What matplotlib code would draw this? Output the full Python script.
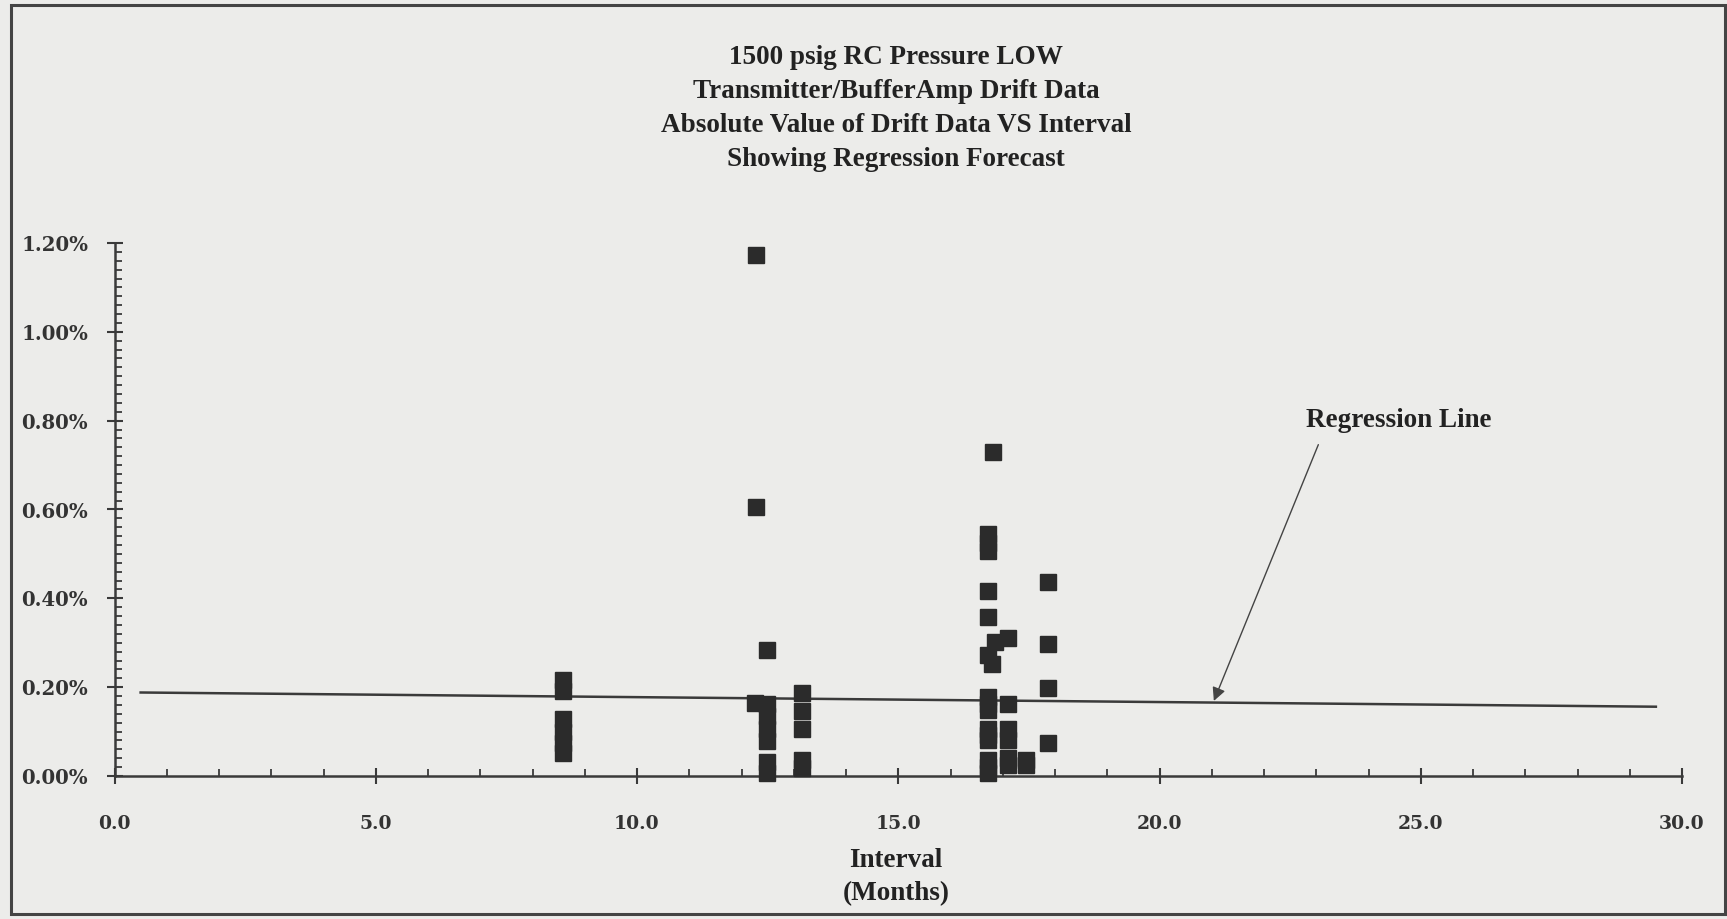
import matplotlib
matplotlib.use("Agg")
import matplotlib.pyplot as plt
from matplotlib.ticker import MultipleLocator, FuncFormatter
from matplotlib.patches import Rectangle

# ---------------- data ----------------
title_lines = [
    "1500 psig RC Pressure LOW",
    "Transmitter/BufferAmp Drift Data",
    "Absolute Value of Drift Data VS Interval",
    "Showing Regression Forecast",
]

interval_months = [
    # ~8.6 months
    8.58, 8.58, 8.58, 8.58, 8.58, 8.58,
    # ~12.3 / 12.5 months
    12.27, 12.27, 12.25, 12.48, 12.48, 12.48, 12.48, 12.48, 12.48, 12.48,
    # ~13.1 months
    13.15, 13.15, 13.15, 13.15, 13.15,
    # ~16.7 - 17.9 months
    16.81, 16.72, 16.72, 16.72, 16.72, 16.72, 17.10, 16.85, 16.72, 16.80,
    17.87, 17.87, 17.87, 17.87,
    16.72, 16.72, 16.72, 16.72, 16.72, 16.72, 16.72, 16.72, 16.72,
    17.10, 17.10, 17.10, 17.10, 17.10,
    17.45, 17.45,
]
drift_pct = [
    0.216, 0.192, 0.128, 0.100, 0.075, 0.051,
    1.173, 0.605, 0.164, 0.283, 0.161, 0.135, 0.105, 0.078, 0.031, 0.006,
    0.186, 0.146, 0.105, 0.035, 0.017,
    0.729, 0.545, 0.525, 0.506, 0.417, 0.357, 0.311, 0.302, 0.272, 0.253,
    0.437, 0.297, 0.199, 0.075,
    0.177, 0.163, 0.149, 0.106, 0.093, 0.081, 0.035, 0.020, 0.006,
    0.163, 0.106, 0.081, 0.040, 0.025,
    0.035, 0.025,
]

regression_x = [0.5, 29.5]
regression_y = [0.188, 0.156]

x_label_lines = ["Interval", "(Months)"]
annotation_text = "Regression Line"

# ---------------- figure ----------------
W, H, DPI = 1727, 919, 100
bg = "#ececea"
ink = "#2b2b2b"

fig = plt.figure(figsize=(W / DPI, H / DPI), dpi=DPI, facecolor=bg)
ax = fig.add_axes([114.5 / W, 143 / H, 1567.5 / W, 533 / H], facecolor=bg)

ax.plot(interval_months, drift_pct, linestyle="none", marker="s",
        markersize=11, color=ink, markeredgecolor=ink, zorder=3, clip_on=False)
ax.plot(regression_x, regression_y, color="#3a3a3a", lw=1.8, zorder=2)

ax.set_xlim(0, 30)
ax.set_ylim(0, 1.2)

for s in ["top", "right"]:
    ax.spines[s].set_visible(False)
for s in ["left", "bottom"]:
    ax.spines[s].set_color("#3a3a3a")
    ax.spines[s].set_linewidth(1.8)

ax.xaxis.set_major_locator(MultipleLocator(5))
ax.xaxis.set_minor_locator(MultipleLocator(1))
ax.yaxis.set_major_locator(MultipleLocator(0.2))
ax.yaxis.set_minor_locator(MultipleLocator(0.02))
ax.xaxis.set_major_formatter(FuncFormatter(lambda v, p: f"{v:.1f}"))
ax.yaxis.set_major_formatter(FuncFormatter(lambda v, p: f"{v:.2f}%"))

ax.tick_params(axis="x", which="major", direction="inout", length=12, width=1.5,
               color="#3a3a3a", pad=22, labelcolor="#333333")
ax.tick_params(axis="x", which="minor", direction="in", length=5, width=1.3,
               color="#3a3a3a")
ax.tick_params(axis="y", which="major", direction="inout", length=12, width=1.5,
               color="#3a3a3a", pad=13, labelcolor="#333333")
ax.tick_params(axis="y", which="minor", direction="in", length=5, width=1.3,
               color="#3a3a3a")
for lab in ax.get_xticklabels():
    lab.set_fontfamily("DejaVu Serif")
    lab.set_fontweight("bold")
    lab.set_fontsize(13.5)
for lab in ax.get_yticklabels():
    lab.set_fontfamily("DejaVu Serif")
    lab.set_fontweight("bold")
    lab.set_fontsize(14.2)

# titles (centred over the plot area, not the page)
serif = "Liberation Serif"
text_cx = 896 / W
title_y = [0.937, 0.900, 0.863, 0.826]
for t, y in zip(title_lines, title_y):
    fig.text(text_cx, y, t, ha="center", va="center", family=serif,
             weight="bold", size=19.5, color="#222222")

# axis label
fig.text(text_cx, 0.0637, x_label_lines[0], ha="center", va="center",
         family=serif, weight="bold", size=19.5, color="#222222")
fig.text(text_cx, 0.0276, x_label_lines[1], ha="center", va="center",
         family=serif, weight="bold", size=19.5, color="#222222")

# annotation
ax.annotate("", xy=(21.04, 0.169), xytext=(23.04, 0.746),
            arrowprops=dict(arrowstyle="-|>", lw=1.0, color="#444444",
                            mutation_scale=20, shrinkA=0, shrinkB=0))
ax.text(24.58, 0.80, annotation_text, ha="center", va="center", family=serif,
        weight="bold", size=19.5, color="#222222")

# outer border of the scanned page
fig.add_artist(Rectangle((11 / W, 5 / H), (W - 13) / W, (H - 10) / H,
                         transform=fig.transFigure, fill=False,
                         edgecolor="#444444", lw=2.2))

fig.savefig("out.png", dpi=DPI, facecolor=bg)
